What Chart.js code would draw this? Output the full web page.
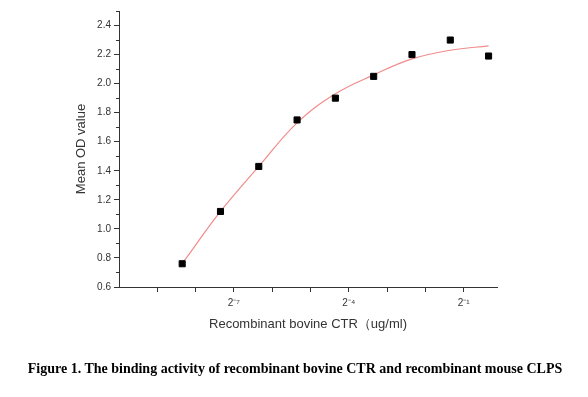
<!DOCTYPE html>
<html lang="en">
<head>
    <meta charset="UTF-8">
    <title>Binding activity of recombinant bovine CTR</title>
    <script src="https://cdn.jsdelivr.net/npm/chart.js"></script>
    <style>
        html, body { margin: 0; padding: 0; background: #fff; }
        #wrap { position: relative; width: 588px; height: 397px; }
        #caption {
            position: absolute; left: 0; top: 360px; width: 590px;
            text-align: center; font: bold 14px "Liberation Serif", serif;
            line-height: 18px; color: #000; white-space: nowrap;
        }
    </style>
</head>
<body>
    <div id="wrap">
        <canvas id="odChart" width="588" height="397"></canvas>
        <div id="caption">Figure 1. The binding activity of recombinant bovine CTR and recombinant mouse CLPS</div>
    </div>

    <script>
        // concentration as log2 exponent (ug/ml = 2^x)
        const concLog2 = [-8.35, -7.35, -6.35, -5.35, -4.35, -3.35, -2.35, -1.35, -0.35];
        const meanOD = [0.76, 1.12, 1.43, 1.75, 1.90, 2.05, 2.20, 2.30, 2.19];
        // fitted curve at the same concentrations
        const fitOD = [0.76, 1.12, 1.43, 1.73, 1.93, 2.06, 2.17, 2.23, 2.26];
        const xTickExp = [-9, -8, -7, -6, -5, -4, -3, -2, -1];
        const xLabelled = { '-7': '2\u207B\u2077', '-4': '2\u207B\u2074', '-1': '2\u207B\u00B9' };

        const axisColor = '#333';

        // minor ticks on the y axis (every 0.1)
        const minorTicks = {
            id: 'minorTicks',
            afterDraw(chart) {
                const y = chart.scales.y;
                const ctx = chart.ctx;
                ctx.save();
                ctx.strokeStyle = axisColor;
                ctx.lineWidth = 1;
                for (let v = 0.7; v <= 2.51; v += 0.2) {
                    const py = Math.round(y.getPixelForValue(v)) + 0.5;
                    ctx.beginPath();
                    ctx.moveTo(y.right - 3, py);
                    ctx.lineTo(y.right, py);
                    ctx.stroke();
                }
                ctx.restore();
            }
        };

        const ctx = document.getElementById('odChart').getContext('2d');
        new Chart(ctx, {
            type: 'scatter',
            data: {
                datasets: [{
                    label: 'Fit',
                    data: concLog2.map((x, i) => ({ x: x, y: fitOD[i] })),
                    showLine: true,
                    borderColor: '#f28b8b',
                    borderWidth: 1.2,
                    pointRadius: 0,
                    tension: 0.4,
                    order: 2
                }, {
                    label: 'Mean OD',
                    data: concLog2.map((x, i) => ({ x: x, y: meanOD[i] })),
                    pointStyle: 'rect',
                    pointRadius: 4.3,
                    backgroundColor: '#000',
                    borderColor: '#000',
                    borderWidth: 1,
                    order: 1
                }]
            },
            options: {
                responsive: false,
                animation: false,
                layout: { padding: { top: 11, right: 91, left: 60, bottom: 57 } },
                plugins: {
                    legend: { display: false },
                    tooltip: { enabled: false }
                },
                scales: {
                    x: {
                        type: 'linear',
                        min: -10,
                        max: -0.13,
                        afterBuildTicks: s => { s.ticks = xTickExp.map(v => ({ value: v })); },
                        afterFit: s => { s.height = 53; },
                        border: { color: axisColor, width: 1 },
                        grid: { display: true, drawOnChartArea: false, tickLength: 5, tickColor: axisColor },
                        ticks: {
                            autoSkip: false,
                            maxRotation: 0,
                            padding: 5,
                            color: '#333',
                            font: { family: 'Liberation Sans', size: 10 },
                            callback: v => xLabelled[String(v)] || ''
                        },
                        title: {
                            display: true,
                            text: 'Recombinant bovine CTR（ug/ml)',
                            color: '#333',
                            font: { family: 'Liberation Sans', size: 13 },
                            padding: { top: 0, bottom: 8 }
                        }
                    },
                    y: {
                        min: 0.6,
                        max: 2.5,
                        afterBuildTicks: s => { s.ticks = s.ticks.filter(t => t.value <= 2.41); },
                        afterFit: s => { s.width = 59; },
                        border: { color: axisColor, width: 1 },
                        grid: { display: true, drawOnChartArea: false, tickLength: 5, tickColor: axisColor },
                        ticks: {
                            stepSize: 0.2,
                            padding: 3,
                            color: '#333',
                            font: { family: 'Liberation Sans', size: 10 },
                            callback: v => v.toFixed(1)
                        },
                        title: {
                            display: true,
                            text: 'Mean OD value',
                            color: '#333',
                            font: { family: 'Liberation Sans', size: 13 },
                            padding: { top: 14, bottom: 0 }
                        }
                    }
                }
            },
            plugins: [minorTicks]
        });
    </script>
</body>
</html>
